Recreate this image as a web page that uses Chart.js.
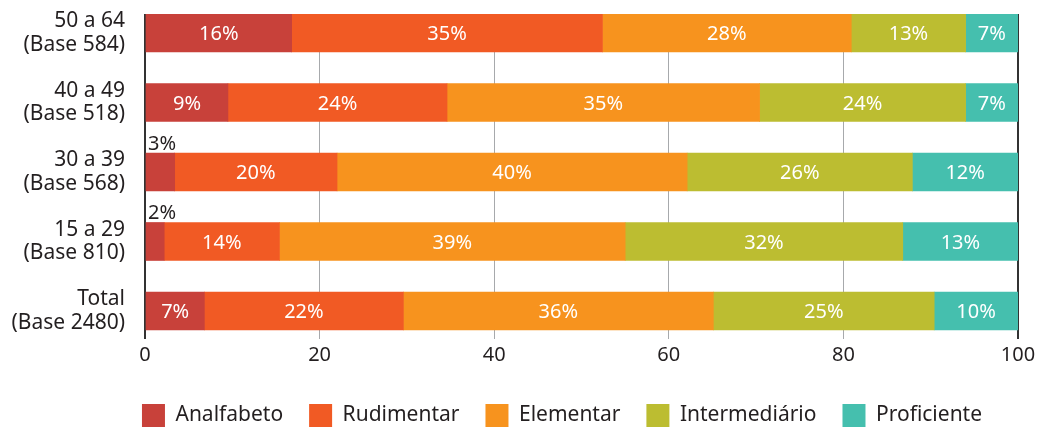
<!DOCTYPE html>
<html>
<head>
<meta charset="utf-8">
<script src="https://cdn.jsdelivr.net/npm/chart.js@4/dist/chart.umd.min.js"></script>
<style>
  html, body { margin: 0; padding: 0; background: #ffffff; overflow: hidden; }
  #wrap { width: 1040px; height: 428px; position: relative; }
</style>
</head>
<body>
<div id="wrap"><canvas id="c" width="1040" height="428"></canvas></div>
<script>
// Categories (top to bottom)
const categories = [
  ["50 a 64", "(Base 584)"],
  ["40 a 49", "(Base 518)"],
  ["30 a 39", "(Base 568)"],
  ["15 a 29", "(Base 810)"],
  ["Total", "(Base 2480)"]
];
const seriesNames = ["Analfabeto", "Rudimentar", "Elementar", "Intermediário", "Proficiente"];
const seriesColors = ["#C8413A", "#F15A24", "#F7931E", "#BCBD31", "#45BFAE"];

// Bar lengths (percent)
const analfabeto    = [16.8,  9.5,  3.4,  2.2,  6.8];
const rudimentar    = [35.6, 25.1, 18.6, 13.2, 22.8];
const elementar     = [28.5, 35.8, 40.1, 39.6, 35.5];
const intermediario = [13.1, 23.6, 25.8, 31.8, 25.3];
const proficiente   = [ 6.0,  6.0, 12.1, 13.2,  9.6];

// Printed labels (percent)
const analfabetoLabels    = [16,  9,  3,  2,  7];
const rudimentarLabels    = [35, 24, 20, 14, 22];
const elementarLabels     = [28, 35, 40, 39, 36];
const intermediarioLabels = [13, 24, 26, 32, 25];
const proficienteLabels   = [ 7,  7, 12, 13, 10];

const xTicks = [0, 20, 40, 60, 80, 100];

const values = [analfabeto, rudimentar, elementar, intermediario, proficiente];
const labelsPrinted = [analfabetoLabels, rudimentarLabels, elementarLabels, intermediarioLabels, proficienteLabels];

const FONT = "'Noto Sans', sans-serif";
const DARK = "#231F20";

const dataLabelPlugin = {
  id: 'dataLabelPlugin',
  afterDatasetsDraw(chart) {
    const ctx = chart.ctx;
    ctx.save();
    ctx.font = "20px " + FONT;
    chart.data.datasets.forEach((ds, di) => {
      const meta = chart.getDatasetMeta(di);
      meta.data.forEach((bar, i) => {
        const txt = labelsPrinted[di][i] + "%";
        const left = Math.min(bar.x, bar.base), right = Math.max(bar.x, bar.base);
        const w = right - left;
        if (w >= 36) {
          ctx.fillStyle = "#ffffff";
          ctx.textAlign = "center";
          ctx.textBaseline = "middle";
          ctx.fillText(txt, (left + right) / 2, bar.y + 1.5);
        } else {
          ctx.fillStyle = DARK;
          ctx.textAlign = "left";
          ctx.textBaseline = "middle";
          ctx.fillText(txt, left + 2, bar.y - bar.height / 2 - 9);
        }
      });
    });
    ctx.restore();
  }
};

const legendFitPlugin = {
  id: 'legendFitPlugin',
  beforeLayout(chart) {
    const lg = chart.legend;
    if (lg && !lg._patched) {
      const f = lg.fit;
      lg.fit = function () { f.call(this); this.height -= 9; };
      lg._patched = true;
    }
  },
  afterLayout(chart) {
    const lg = chart.legend;
    if (lg) { lg.left += 53; lg.right += 53; }
  }
};

new Chart(document.getElementById('c'), {
  type: 'bar',
  data: {
    labels: categories,
    datasets: seriesNames.map((n, k) => ({
      label: n,
      data: values[k],
      backgroundColor: seriesColors[k],
      borderWidth: 0,
      barThickness: 38
    }))
  },
  options: {
    indexAxis: 'y',
    responsive: false,
    animation: false,
    devicePixelRatio: 1,
    layout: { padding: { top: 14, right: 22, bottom: 0, left: 0 } },
    scales: {
      x: {
        stacked: true,
        min: 0, max: 100,
        afterBuildTicks(scale) { scale.ticks = xTicks.map(v => ({ value: v })); },
        afterFit(scale) { scale.height = 39; scale.paddingLeft = 0; scale.paddingRight = 0; },
        grid: {
          drawTicks: false,
          color: (c) => (c.tick && (c.tick.value === 0 || c.tick.value === 100)) ? "#333333" : "#A7A9AC",
          lineWidth: (c) => (c.tick && (c.tick.value === 0 || c.tick.value === 100)) ? 2 : 1
        },
        border: { display: false },
        ticks: { color: DARK, font: { family: FONT, size: 20 }, padding: 4 }
      },
      y: {
        stacked: true,
        afterBuildTicks(scale) { scale._startValue = -0.273; scale._valueRange = 4.676; },
        afterFit(scale) { scale.width = 145; scale.paddingTop = 0; scale.paddingBottom = 0; },
        grid: { display: false, drawTicks: false },
        border: { display: false },
        ticks: { color: DARK, font: { family: FONT, size: 21, lineHeight: 1.12 }, padding: 20, labelOffset: 0 }
      }
    },
    plugins: {
      legend: {
        position: 'bottom',
        labels: {
          boxWidth: 23, boxHeight: 23, padding: 26,
          color: DARK,
          font: { family: FONT, size: 21 }
        }
      },
      tooltip: { enabled: false }
    }
  },
  plugins: [dataLabelPlugin, legendFitPlugin]
});
</script>
</body>
</html>
